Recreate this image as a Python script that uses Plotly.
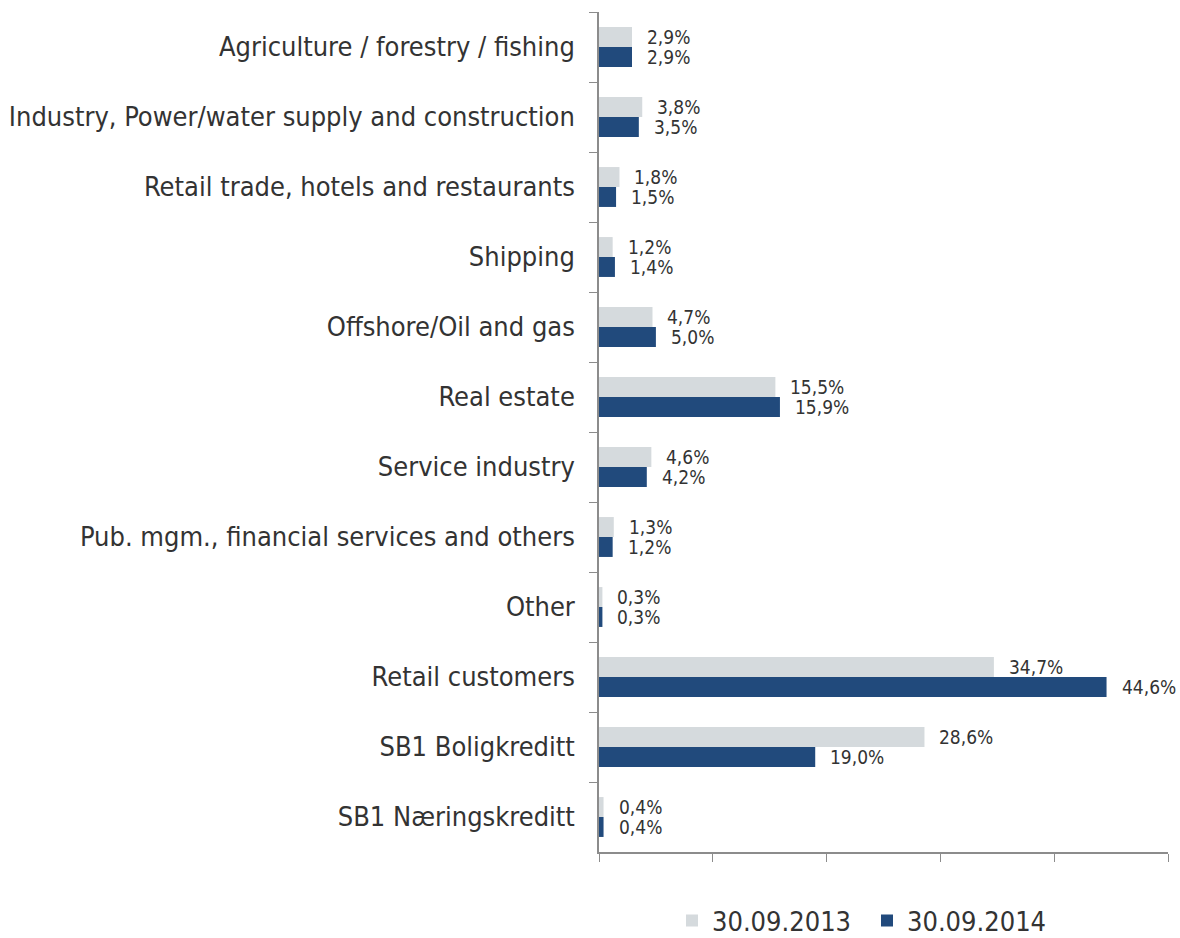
import plotly.graph_objects as go

categories = [
    "Agriculture / forestry / fishing",
    "Industry, Power/water supply and construction",
    "Retail trade, hotels and restaurants",
    "Shipping",
    "Offshore/Oil and gas",
    "Real estate",
    "Service industry",
    "Pub. mgm., financial services and others",
    "Other",
    "Retail customers",
    "SB1 Boligkreditt",
    "SB1 Næringskreditt",
]
share_2013 = [2.9, 3.8, 1.8, 1.2, 4.7, 15.5, 4.6, 1.3, 0.3, 34.7, 28.6, 0.4]
share_2014 = [2.9, 3.5, 1.5, 1.4, 5.0, 15.9, 4.2, 1.2, 0.3, 44.6, 19.0, 0.4]
series_names = ["30.09.2013", "30.09.2014"]

GREY = "#D5DADD"
BLUE = "#214A7C"
TEXT = "#333333"
AXIS = "#8C8C8C"
FONT = "'DejaVu Sans Condensed', 'DejaVu Sans', sans-serif"


def fmt(v):
    return f"{v:.1f}%".replace(".", ",")


fig = go.Figure()
for name, vals, col in [(series_names[0], share_2013, GREY), (series_names[1], share_2014, BLUE)]:
    fig.add_trace(go.Bar(
        name=name,
        y=categories,
        x=vals,
        orientation="h",
        marker=dict(color=col, line=dict(width=0)),
        cliponaxis=False,
    ))

# value labels placed just past the end of each bar
for vals, shift in [(share_2013, 10), (share_2014, -10)]:
    for cat, v in zip(categories, vals):
        fig.add_annotation(
            x=v, y=cat, text=fmt(v),
            xanchor="left", yanchor="middle",
            xshift=13, yshift=shift,
            showarrow=False,
            font=dict(size=19, color=TEXT, family=FONT),
        )

fig.update_layout(
    width=1180,
    height=938,
    barmode="group",
    bargap=0.43,
    bargroupgap=0,
    plot_bgcolor="white",
    paper_bgcolor="white",
    margin=dict(l=599, r=12, t=12, b=86, autoexpand=False),
    font=dict(family=FONT, color=TEXT, size=27),
    showlegend=True,
    legend=dict(
        orientation="h",
        x=0.471,
        xanchor="center",
        y=-0.053,
        yanchor="top",
        font=dict(size=27, color=TEXT),
        itemwidth=30,
        entrywidth=150,
        traceorder="normal",
    ),
    xaxis=dict(
        range=[0, 50],
        dtick=10,
        showgrid=False,
        zeroline=False,
        showline=True,
        linecolor=AXIS,
        linewidth=1.5,
        ticks="outside",
        ticklen=8,
        tickcolor=AXIS,
        showticklabels=False,
    ),
    yaxis=dict(
        autorange="reversed",
        showgrid=False,
        showline=True,
        linecolor=AXIS,
        linewidth=1.5,
        ticks="outside",
        tickson="boundaries",
        ticklen=8,
        tickcolor=AXIS,
        tickfont=dict(size=27, color=TEXT, family=FONT),
        ticklabelstandoff=17,
    ),
)

fig.write_html("out.html")
